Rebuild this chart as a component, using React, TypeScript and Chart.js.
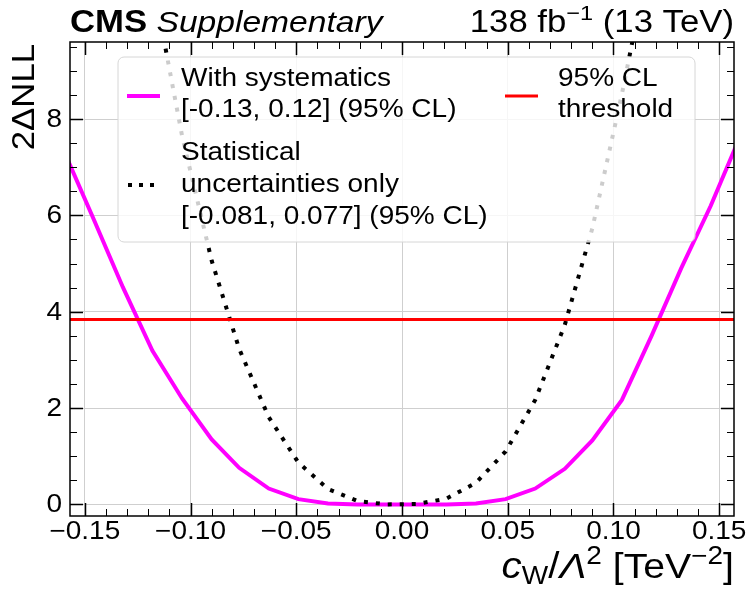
import React, { useEffect, useRef } from 'react';
import { Chart, registerables } from 'chart.js';

Chart.register(...registerables);

const FONT = "'Liberation Sans', Arial, Helvetica, sans-serif";
// horizontal widening applied to all text (wide sans face)
const SX = 1.12;

// Scan points of the Wilson coefficient c_W / Lambda^2 [TeV^-2]
const C_W = [
  -0.160, -0.146, -0.132, -0.118, -0.104, -0.090, -0.077, -0.063, -0.049, -0.035, -0.021, -0.007,
  0.007, 0.021, 0.035, 0.049, 0.063, 0.077, 0.090, 0.104, 0.118, 0.132, 0.146, 0.160,
];

// 2*Delta NLL, full uncertainty model
const NLL_SYST = [
  7.35, 5.94, 4.51, 3.19, 2.20, 1.35, 0.76, 0.33, 0.11, 0.02, 0.0, 0.0,
  0.0, 0.0, 0.02, 0.11, 0.33, 0.74, 1.33, 2.17, 3.50, 4.90, 6.20, 7.65,
];

// 2*Delta NLL, statistical uncertainties only
const NLL_STAT = [
  25.0, 18.5, 14.2, 10.9, 7.65, 5.06, 3.23, 1.81, 0.87, 0.32, 0.07, 0.0,
  0.01, 0.12, 0.45, 1.10, 2.17, 3.73, 5.73, 8.52, 11.6, 15.5, 20.0, 25.4,
];

const CL95_THRESHOLD = 3.84;

const X_TICKS = [-0.15, -0.1, -0.05, 0, 0.05, 0.1, 0.15];
const Y_TICKS = [0, 2, 4, 6, 8];
const X_MIN = -0.157;
const X_MAX = 0.157;
const Y_MIN = -0.24;
const Y_MAX = 9.6;

const LEGEND_SYST = ['With systematics', '[-0.13, 0.12] (95% CL)'];
const LEGEND_STAT = ['Statistical', 'uncertainties only', '[-0.081, 0.077] (95% CL)'];
const LEGEND_THR = ['95% CL', 'threshold'];

const MAGENTA = '#ff00ff';
const RED = '#ff0000';

type Run = { t: string; font: string; dy?: number };

function textW(ctx: CanvasRenderingContext2D, t: string) {
  return ctx.measureText(t).width * SX;
}

// widened text with alignment
function sText(ctx: CanvasRenderingContext2D, t: string, x: number, y: number, align: 'left' | 'center' | 'right' = 'left') {
  const w = textW(ctx, t);
  const x0 = align === 'center' ? x - w / 2 : align === 'right' ? x - w : x;
  ctx.save();
  ctx.translate(x0, y);
  ctx.scale(SX, 1);
  ctx.textAlign = 'left';
  ctx.fillText(t, 0, 0);
  ctx.restore();
}

function runsWidth(ctx: CanvasRenderingContext2D, runs: Run[]) {
  let w = 0;
  for (const r of runs) {
    ctx.font = r.font;
    w += textW(ctx, r.t);
  }
  return w;
}

function drawRuns(ctx: CanvasRenderingContext2D, runs: Run[], x: number, y: number) {
  let cx = x;
  for (const r of runs) {
    ctx.font = r.font;
    sText(ctx, r.t, cx, y + (r.dy || 0));
    cx += textW(ctx, r.t);
  }
}

function fmtX(v: number) {
  if (Math.abs(v) < 1e-9) return '0.00';
  return (v < 0 ? '\u2212' : '') + Math.abs(v).toFixed(2);
}

const decorPlugin = {
  id: 'cmsDecor',
  afterDatasetsDraw(chart: any) {
    const ctx: CanvasRenderingContext2D = chart.ctx;
    const { left, right, top, bottom } = chart.chartArea;
    const xs = chart.scales.x;
    const ys = chart.scales.y;
    ctx.save();

    // legend box (semi-transparent, drawn over the curves)
    const lx = 118, ly = 57, lw = 577, lh = 185;
    ctx.beginPath();
    ctx.roundRect(lx, ly, lw, lh, 6);
    ctx.fillStyle = 'rgba(255,255,255,0.8)';
    ctx.fill();
    ctx.lineWidth = 1;
    ctx.strokeStyle = '#d6d6d6';
    ctx.stroke();

    ctx.lineCap = 'butt';
    ctx.strokeStyle = MAGENTA;
    ctx.lineWidth = 4;
    ctx.beginPath();
    ctx.moveTo(127, 96);
    ctx.lineTo(160, 96);
    ctx.stroke();

    ctx.strokeStyle = RED;
    ctx.lineWidth = 3;
    ctx.beginPath();
    ctx.moveTo(505, 96);
    ctx.lineTo(538, 96);
    ctx.stroke();

    ctx.strokeStyle = '#000';
    ctx.lineWidth = 4;
    ctx.setLineDash([4, 7]);
    ctx.beginPath();
    ctx.moveTo(128, 185);
    ctx.lineTo(161, 185);
    ctx.stroke();
    ctx.setLineDash([]);

    ctx.fillStyle = '#000';
    ctx.textBaseline = 'middle';
    ctx.font = `25px ${FONT}`;
    LEGEND_SYST.forEach((t, i) => sText(ctx, t, 181, 79 + i * 31));
    LEGEND_STAT.forEach((t, i) => sText(ctx, t, 181, 153 + i * 32));
    LEGEND_THR.forEach((t, i) => sText(ctx, t, 558, 79 + i * 31));

    // frame
    ctx.strokeStyle = '#000';
    ctx.lineWidth = 1.5;
    ctx.strokeRect(left, top, right - left, bottom - top);

    // inward ticks on all four sides
    const vline = (px: number, len: number, w: number) => {
      ctx.lineWidth = w;
      ctx.beginPath();
      ctx.moveTo(px, bottom);
      ctx.lineTo(px, bottom - len);
      ctx.moveTo(px, top);
      ctx.lineTo(px, top + len);
      ctx.stroke();
    };
    const hline = (py: number, len: number, w: number) => {
      ctx.lineWidth = w;
      ctx.beginPath();
      ctx.moveTo(left, py);
      ctx.lineTo(left + len, py);
      ctx.moveTo(right, py);
      ctx.lineTo(right - len, py);
      ctx.stroke();
    };
    for (let i = -15; i <= 15; i++) {
      const px = Math.round(xs.getPixelForValue(i / 100)) + 0.5;
      if (i % 5 === 0) vline(px, 13, 1.5);
      else vline(px, 7, 1);
    }
    for (let k = 0; k * 0.5 <= Y_MAX; k++) {
      const py = Math.round(ys.getPixelForValue(k * 0.5)) + 0.5;
      if (k % 4 === 0) hline(py, 13, 1.5);
      else hline(py, 7, 1);
    }
    ctx.restore();
  },
  afterDraw(chart: any) {
    const ctx: CanvasRenderingContext2D = chart.ctx;
    const { left, right, bottom } = chart.chartArea;
    const xs = chart.scales.x;
    const ys = chart.scales.y;
    ctx.save();
    ctx.fillStyle = '#000';

    // tick labels
    ctx.textBaseline = 'middle';
    ctx.font = `25px ${FONT}`;
    X_TICKS.forEach((v) => sText(ctx, fmtX(v), xs.getPixelForValue(v), bottom + 16, 'center'));
    Y_TICKS.forEach((v) => sText(ctx, String(v), left - 8, ys.getPixelForValue(v) + 1, 'right'));

    ctx.textBaseline = 'alphabetic';

    // experiment label
    drawRuns(
      ctx,
      [
        { t: 'CMS', font: `bold 31px ${FONT}` },
        { t: ' Supplementary', font: `italic 30px ${FONT}` },
      ],
      left,
      32,
    );

    // luminosity and energy
    const lumi: Run[] = [
      { t: '138 fb', font: `31px ${FONT}` },
      { t: '\u22121', font: `21px ${FONT}`, dy: -12 },
      { t: ' (13 TeV)', font: `31px ${FONT}` },
    ];
    drawRuns(ctx, lumi, right - runsWidth(ctx, lumi), 32);

    // x-axis title
    const xt: Run[] = [
      { t: 'c', font: `italic 36px ${FONT}` },
      { t: 'W', font: `25px ${FONT}`, dy: 6 },
      { t: '/', font: `36px ${FONT}` },
      { t: '\u039B', font: `italic 36px ${FONT}` },
      { t: '2', font: `25px ${FONT}`, dy: -14 },
      { t: ' [TeV', font: `35px ${FONT}` },
      { t: '\u22122', font: `25px ${FONT}`, dy: -14 },
      { t: ']', font: `35px ${FONT}` },
    ];
    drawRuns(ctx, xt, right - runsWidth(ctx, xt), 578);

    // y-axis title
    ctx.translate(34, 44);
    ctx.rotate(-Math.PI / 2);
    ctx.font = `31px ${FONT}`;
    sText(ctx, '2\u0394NLL', 0, 0, 'right');
    ctx.restore();
  },
};

export default function App() {
  const ref = useRef<HTMLCanvasElement | null>(null);

  useEffect(() => {
    if (!ref.current) return;
    const chart = new Chart(ref.current, {
      type: 'line',
      data: {
        datasets: [
          {
            label: 'With systematics',
            data: C_W.map((x, i) => ({ x, y: NLL_SYST[i] })),
            borderColor: MAGENTA,
            borderWidth: 4,
            pointRadius: 0,
            tension: 0,
            order: 2,
          },
          {
            label: 'Statistical uncertainties only',
            data: C_W.map((x, i) => ({ x, y: NLL_STAT[i] })),
            borderColor: '#000',
            borderWidth: 4,
            borderDash: [4, 8],
            borderCapStyle: 'butt',
            pointRadius: 0,
            tension: 0,
            order: 1,
          },
          {
            label: '95% CL threshold',
            data: [
              { x: X_MIN, y: CL95_THRESHOLD },
              { x: X_MAX, y: CL95_THRESHOLD },
            ],
            borderColor: RED,
            borderWidth: 3,
            pointRadius: 0,
            order: 0,
          },
        ],
      },
      options: {
        animation: false,
        responsive: false,
        layout: { padding: { top: 42, right: 16, left: 0, bottom: 0 } },
        plugins: { legend: { display: false }, tooltip: { enabled: false }, title: { display: false } },
        scales: {
          x: {
            type: 'linear',
            min: X_MIN,
            max: X_MAX,
            afterBuildTicks: (s: any) => {
              s.ticks = X_TICKS.map((v) => ({ value: v }));
            },
            afterFit: (s: any) => {
              s.height = 74;
            },
            grid: { color: '#cfcfcf', lineWidth: 1, drawTicks: false },
            border: { display: false },
            ticks: { display: false },
          },
          y: {
            type: 'linear',
            min: Y_MIN,
            max: Y_MAX,
            afterBuildTicks: (s: any) => {
              s.ticks = Y_TICKS.map((v) => ({ value: v }));
            },
            afterFit: (s: any) => {
              s.width = 70;
            },
            grid: { color: '#cfcfcf', lineWidth: 1, drawTicks: false },
            border: { display: false },
            ticks: { display: false },
          },
        },
      },
      plugins: [decorPlugin],
    } as any);
    return () => chart.destroy();
  }, []);

  return (
    <div style={{ position: 'fixed', left: 0, top: 0, width: 750, height: 590, background: '#fff' }}>
      <canvas ref={ref} width={750} height={590} style={{ width: 750, height: 590, display: 'block' }} />
    </div>
  );
}
